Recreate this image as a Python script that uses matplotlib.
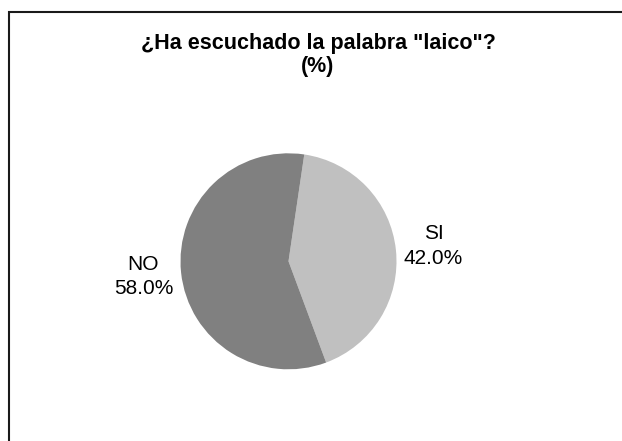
import matplotlib
matplotlib.use("Agg")
import matplotlib.pyplot as plt
from matplotlib.patches import Rectangle

# Data
categories = ["SI", "NO"]
values = [42.0, 58.0]
colors = ["#C0C0C0", "#808080"]
title = '¿Ha escuchado la palabra "laico"?\n(%)'

plt.rcParams['font.family'] = ['Liberation Sans', 'DejaVu Sans']

W, H = 622, 441
fig = plt.figure(figsize=(W / 100, H / 100), dpi=100)
fig.patch.set_facecolor('white')

# frame around the chart (cut off at right and bottom)
fig.add_artist(Rectangle((9 / W, -0.2), 1.3, 1 - 12 / H + 0.2,
                         transform=fig.transFigure, fill=False,
                         lw=1.5, ec='#1a1a1a'))

# pie axes: centre (288.5, 261.3) px, radius 108 px
cx, cy, r = 288.5, 261.3, 108
ax = fig.add_axes([(cx - r) / W, (H - cy - r) / H, 2 * r / W, 2 * r / H])

labels = [f"{c}\n{v:.1f}%" for c, v in zip(categories, values)]
ax.pie(values, labels=labels, colors=colors, startangle=81.6,
       counterclock=False, labeldistance=1.35, radius=1,
       wedgeprops=dict(linewidth=0),
       textprops=dict(ha='center', fontsize=15, color='black',
                      linespacing=1.35))
ax.set_xlim(-1, 1)
ax.set_ylim(-1, 1)
ax.set_aspect('equal')

fig.text(318 / W, 1 - 55 / H, title, ha='center', va='center',
         fontsize=15.5, fontweight='bold', linespacing=1.1)

fig.savefig("out.png", dpi=100, facecolor='white')
